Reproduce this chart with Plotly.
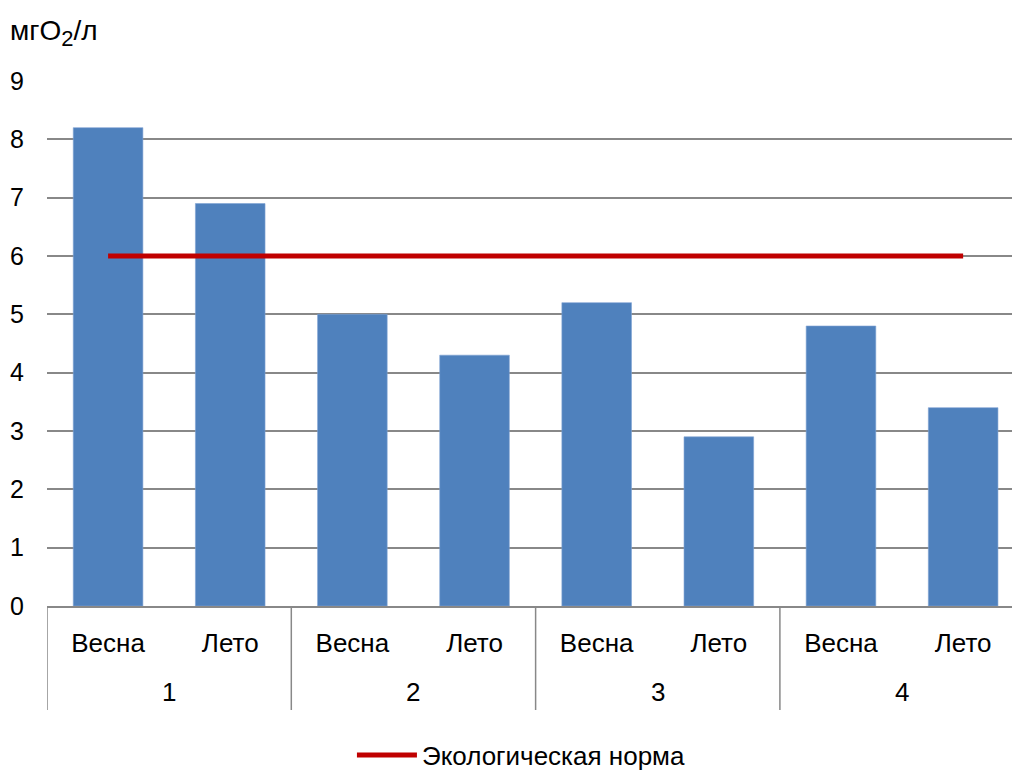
import plotly.graph_objects as go

# Data
sites = ["1", "1", "2", "2", "3", "3", "4", "4"]
seasons = ["Весна", "Лето", "Весна", "Лето", "Весна", "Лето", "Весна", "Лето"]
oxygen = [8.2, 6.9, 5.0, 4.3, 5.2, 2.9, 4.8, 3.4]
norm_value = 6
norm_label = "Экологическая норма"
y_ticks = [0, 1, 2, 3, 4, 5, 6, 7, 8, 9]

FONT = "Liberation Sans, Arial, sans-serif"
GRID = "#888888"

# Bars sit at consecutive slots on a linear x axis; season names label the slots
slots = list(range(len(oxygen)))

fig = go.Figure()

fig.add_trace(go.Bar(
    x=slots,
    y=oxygen,
    width=0.57,
    marker=dict(color="#4F81BD", line=dict(color="#7FA3D3", width=0.6)),
    showlegend=False,
))

fig.add_trace(go.Scatter(
    x=[slots[0], slots[-1]],
    y=[norm_value, norm_value],
    mode="lines",
    line=dict(color="#C00000", width=5),
    name=norm_label,
))

# Group (site) labels and separators below the season labels
groups = []
for i, s in enumerate(sites):
    if not groups or groups[-1][0] != s:
        groups.append([s, [i]])
    else:
        groups[-1][1].append(i)

annotations = []
shapes = []
for name, idx in groups:
    annotations.append(dict(
        text=name,
        x=sum(idx) / len(idx), xref="x",
        y=-(692 - 606) / 525, yref="paper",
        xanchor="center", yanchor="middle",
        showarrow=False,
        font=dict(size=26),
    ))
    shapes.append(dict(
        type="line", xref="x", yref="paper",
        x0=idx[0] - 0.5, x1=idx[0] - 0.5,
        y0=0, y1=-(710 - 606) / 525,
        line=dict(color=GRID, width=1.5),
    ))

annotations.append(dict(
    text="мгО<sub><span style='font-size:22px'>2</span></sub>/л",
    xref="paper", yref="paper",
    x=-39 / 965, y=1 + (81 - 33) / 525,
    xanchor="left", yanchor="middle",
    showarrow=False,
    font=dict(size=28),
))

fig.update_layout(
    width=1012,
    height=771,
    margin=dict(l=47, r=0, t=81, b=165, autoexpand=False),
    paper_bgcolor="white",
    plot_bgcolor="white",
    font=dict(family=FONT, size=26, color="black"),
    showlegend=True,
    legend=dict(
        orientation="h",
        x=0.316, xanchor="left",
        y=-(755 - 606) / 525, yanchor="middle",
        font=dict(size=26),
        itemwidth=60,
    ),
    xaxis=dict(
        range=[-0.5, 7.4],
        tickvals=slots,
        ticktext=seasons,
        showline=True,
        linecolor=GRID,
        linewidth=1.5,
        showgrid=False,
        zeroline=False,
        ticks="",
        tickfont=dict(size=26),
        ticklabelstandoff=13,
        automargin=False,
    ),
    yaxis=dict(
        range=[0, 9],
        tickvals=y_ticks,
        showgrid=True,
        gridcolor=GRID,
        gridwidth=1.5,
        zeroline=False,
        tickfont=dict(size=25),
        ticks="",
        ticklabelstandoff=22,
        automargin=False,
    ),
    annotations=annotations,
    shapes=shapes,
)

fig.write_html("out.html")
